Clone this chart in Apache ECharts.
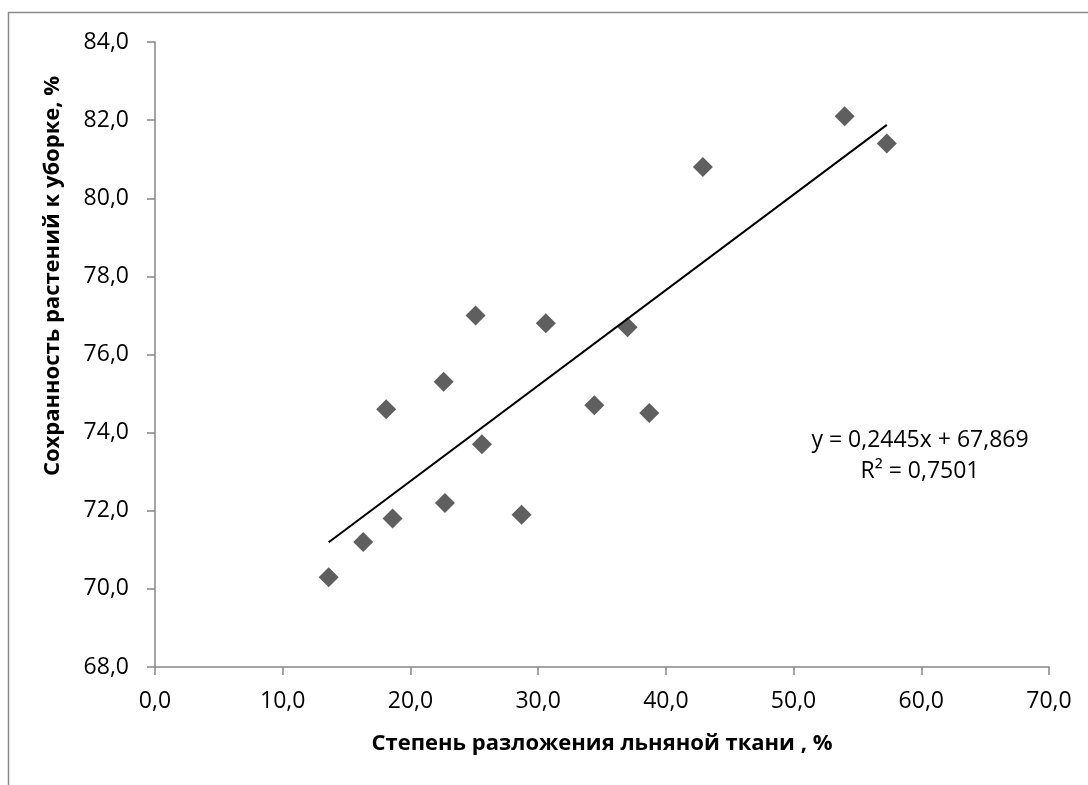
<!DOCTYPE html>
<html>
<head>
<meta charset="utf-8">
<script src="https://cdn.jsdelivr.net/npm/echarts@6/dist/echarts.min.js"></script>
<style>
  html, body { margin: 0; padding: 0; background: #fff; }
  #chart { width: 1088px; height: 785px; }
</style>
</head>
<body>
<div id="chart"></div>
<script>
// Data
const xValues = [13.6, 16.3, 18.6, 18.1, 22.6, 22.7, 25.1, 25.6, 28.7, 30.6, 34.4, 37.0, 38.7, 42.9, 54.0, 57.3];
const yValues = [70.3, 71.2, 71.8, 74.6, 75.3, 72.2, 77.0, 73.7, 71.9, 76.8, 74.7, 76.7, 74.5, 80.8, 82.1, 81.4];
const trendSlope = 0.2445;
const trendIntercept = 67.869;
const trendR2 = '0,7501';
const xTitle = 'Степень разложения льняной ткани , %';
const yTitle = 'Сохранность растений к уборке, %';

const points = xValues.map((x, i) => [x, yValues[i]]);
const xMin = Math.min(...xValues), xMax = Math.max(...xValues);
const trendPoints = [xMin, xMax].map(x => [x, trendSlope * x + trendIntercept]);
const fmt = v => v.toFixed(1).replace('.', ',');
const eqText = 'y = ' + String(trendSlope).replace('.', ',') + 'x + ' + String(trendIntercept).replace('.', ',') + '\nR² = ' + trendR2;

const FONT = '"Open Sans", sans-serif';
const axisColor = '#868686';

const chart = echarts.init(document.getElementById('chart'), null, { renderer: 'canvas' });
chart.setOption({
  animation: false,
  backgroundColor: '#fff',
  grid: { left: 155, top: 42, right: 39, bottom: 118, containLabel: false },
  xAxis: {
    type: 'value', min: 0, max: 70, interval: 10,
    name: xTitle, nameLocation: 'middle', nameGap: 66,
    nameTextStyle: { fontFamily: FONT, fontSize: 22, fontWeight: 'bold', color: '#000' },
    axisLine: { show: true, onZero: false, lineStyle: { color: axisColor, width: 1.5 } },
    axisTick: { show: true, inside: false, length: 8, lineStyle: { color: axisColor, width: 1.5 } },
    axisLabel: { formatter: fmt, fontFamily: FONT, fontSize: 23, color: '#000', margin: 23 },
    splitLine: { show: false }
  },
  yAxis: {
    type: 'value', min: 68, max: 84, interval: 2,
    axisLine: { show: true, onZero: false, lineStyle: { color: axisColor, width: 1.5 } },
    axisTick: { show: true, inside: false, length: 8, lineStyle: { color: axisColor, width: 1.5 } },
    axisLabel: { formatter: fmt, fontFamily: FONT, fontSize: 23, color: '#000', margin: 26 },
    splitLine: { show: false }
  },
  graphic: [
    { type: 'rect', shape: { x: 8.5, y: 12.5, width: 1200, height: 1000 },
      style: { fill: 'none', stroke: '#8a8a8a', lineWidth: 1.5 }, silent: true, z: -1 },
    { type: 'text', x: 53, y: 276, rotation: Math.PI / 2,
      style: { text: yTitle, font: 'bold 22px ' + FONT, fill: '#000', textAlign: 'center', textVerticalAlign: 'middle' } },
    { type: 'text', x: 920, y: 456,
      style: { text: eqText, font: '23px ' + FONT, fill: '#000', textAlign: 'center', textVerticalAlign: 'middle', lineHeight: 31 } }
  ],
  series: [
    {
      type: 'line', data: trendPoints, symbol: 'none',
      lineStyle: { color: '#000', width: 2 }, z: 3, silent: true
    },
    {
      type: 'scatter', data: points, symbol: 'diamond', symbolSize: 20,
      itemStyle: { color: '#5f5f5f', opacity: 1 }, z: 2
    }
  ]
});
</script>
</body>
</html>
